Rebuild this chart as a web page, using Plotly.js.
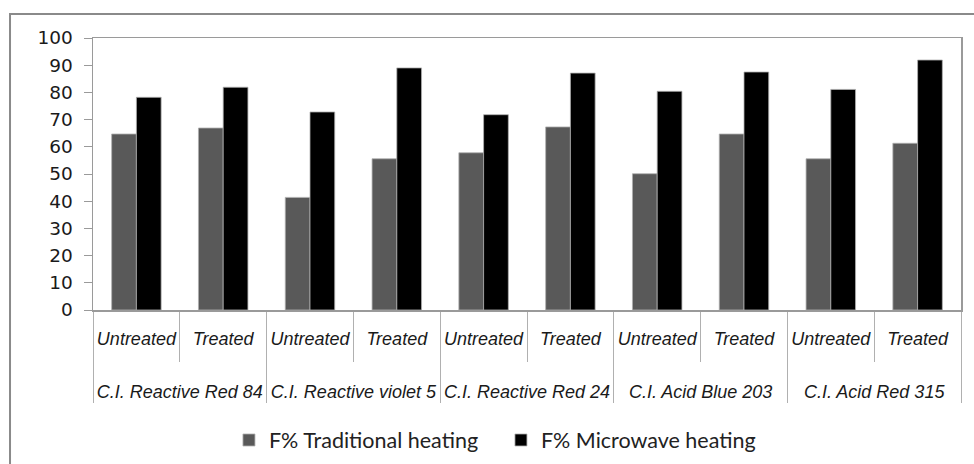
<!DOCTYPE html>
<html>
<head>
<meta charset="utf-8">
<script src="https://cdn.plot.ly/plotly-3.0.1.min.js"></script>
<style>
  html, body { margin: 0; padding: 0; background: #ffffff; }
  #chart { width: 974px; height: 464px; }
</style>
</head>
<body>
<div id="chart"></div>
<script>
// Data
const dyes = ["C.I. Reactive Red 84", "C.I. Reactive violet 5", "C.I. Reactive Red 24", "C.I. Acid Blue 203", "C.I. Acid Red 315"];
const treatments = ["Untreated", "Treated"];
const traditional = [64.7, 66.9, 41.4, 55.6, 57.8, 67.3, 50.1, 64.7, 55.6, 61.3];
const microwave   = [78.2, 81.9, 72.8, 89.0, 71.8, 87.1, 80.4, 87.5, 81.1, 91.9];
const seriesNames = ["F% Traditional heating", "F% Microwave heating"];
const yTicks = [0, 10, 20, 30, 40, 50, 60, 70, 80, 90, 100];

// build the two-level category arrays (blank lines under the treatment
// label push the dye row further down, as in the reference)
const level1 = [];
const level2 = [];
const pad = "<br>\u00a0<br><span style='font-size:1px'>\u00a0</span>";
dyes.forEach(d => treatments.forEach(t => { level1.push(d); level2.push(t + pad); }));

const traces = [
  {
    type: "bar",
    name: seriesNames[0],
    x: [level1, level2],
    y: traditional,
    marker: { color: "#595959", line: { color: "#b0b0b0", width: 0.8 } }
  },
  {
    type: "bar",
    name: seriesNames[1],
    x: [level1, level2],
    y: microwave,
    marker: { color: "#000000", line: { color: "#b0b0b0", width: 0.8 } }
  }
];

const layout = {
  width: 974,
  height: 464,
  paper_bgcolor: "#ffffff",
  plot_bgcolor: "#ffffff",
  margin: { l: 93, r: 13, t: 38, b: 154, autoexpand: false },
  barmode: "group",
  bargap: 0.43,
  bargroupgap: 0,
  showlegend: true,
  legend: {
    orientation: "h",
    x: 0.470,
    xanchor: "center",
    y: -0.478,
    yanchor: "middle",
    font: { family: "Lato, 'Open Sans', sans-serif", size: 21.5, color: "#222222" },
    itemwidth: 30,
    entrywidth: 227,
    traceorder: "normal"
  },
  xaxis: {
    type: "multicategory",
    showline: true,
    linecolor: "#9a9a9a",
    linewidth: 1.5,
    mirror: true,
    ticks: "outside",
    tickson: "boundaries",
    ticklen: 50,
    tickangle: 0,
    ticklabelstandoff: 12,
    tickcolor: "#b0b0b0",
    tickwidth: 1,
    showdividers: true,
    dividercolor: "#b0b0b0",
    dividerwidth: 1,
    tickfont: { family: "'Liberation Sans', Arial, sans-serif", size: 18, color: "#1a1a1a", style: "italic" },
    showgrid: false,
    zeroline: false
  },
  yaxis: {
    range: [0, 100],
    tickvals: yTicks,
    ticktext: yTicks.map(String),
    ticks: "outside",
    ticklen: 8,
    ticklabelstandoff: 7,
    tickcolor: "#9a9a9a",
    showline: true,
    linecolor: "#9a9a9a",
    linewidth: 1.5,
    mirror: true,
    showgrid: false,
    zeroline: false,
    tickfont: { family: "'DejaVu Sans', Verdana, sans-serif", size: 18.5, color: "#1a1a1a" }
  },
  shapes: [
    {
      type: "rect",
      xref: "paper", yref: "paper",
      x0: -0.0956, x1: 1.2,
      y0: -1.0, y1: 1.088,
      line: { color: "#8a8a8a", width: 2 },
      fillcolor: "rgba(0,0,0,0)",
      layer: "below"
    }
  ]
};

Plotly.newPlot("chart", traces, layout, { displayModeBar: false, staticPlot: true });
</script>
</body>
</html>
